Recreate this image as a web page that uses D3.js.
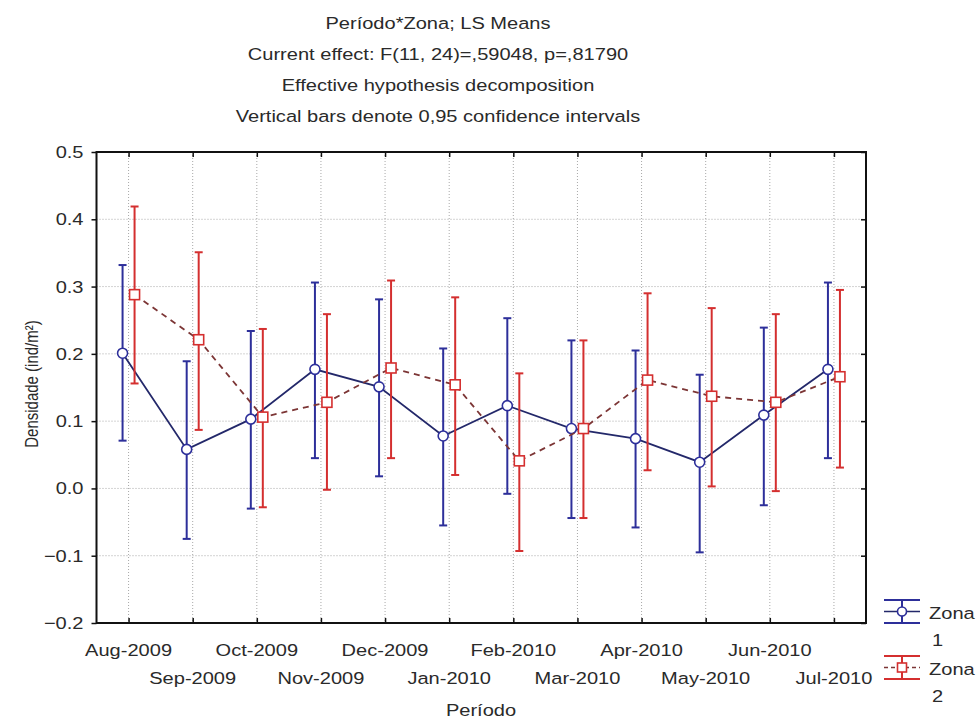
<!DOCTYPE html>
<html>
<head>
<meta charset="utf-8">
<script src="https://cdn.jsdelivr.net/npm/d3@7"></script>
<style>
  html, body { margin: 0; padding: 0; background: #fff; }
  svg { display: block; font-family: "Liberation Sans", Arial, sans-serif; }
</style>
</head>
<body>
<svg id="chart" width="978" height="723"></svg>
<script>
// LS means of density per sampling month, for the two zones, with 0.95 confidence limits
const categories = ["Aug-2009","Sep-2009","Oct-2009","Nov-2009","Dec-2009","Jan-2010",
                    "Feb-2010","Mar-2010","Apr-2010","May-2010","Jun-2010","Jul-2010"];

const zona1Mean  = [0.201, 0.058, 0.103, 0.177, 0.151, 0.078, 0.123, 0.089, 0.074, 0.039, 0.109, 0.177];
const zona1Lower = [0.071, -0.075, -0.030, 0.045, 0.018, -0.055, -0.008, -0.044, -0.058, -0.095, -0.025, 0.045];
const zona1Upper = [0.332, 0.189, 0.234, 0.306, 0.281, 0.208, 0.253, 0.220, 0.205, 0.169, 0.239, 0.306];

const zona2Mean  = [0.288, 0.221, 0.106, 0.128, 0.179, 0.154, 0.041, 0.089, 0.161, 0.137, 0.128, 0.166];
const zona2Lower = [0.156, 0.087, -0.028, -0.002, 0.045, 0.020, -0.093, -0.044, 0.027, 0.003, -0.004, 0.031];
const zona2Upper = [0.419, 0.351, 0.237, 0.259, 0.309, 0.284, 0.171, 0.220, 0.290, 0.268, 0.259, 0.295];

const yTicks = [0.5, 0.4, 0.3, 0.2, 0.1, 0.0, -0.1, -0.2];

const titleLines = [
  "Período*Zona; LS Means",
  "Current effect: F(11, 24)=,59048, p=,81790",
  "Effective hypothesis decomposition",
  "Vertical bars denote 0,95 confidence intervals"
];

const svg = d3.select("#chart");
const plot = { left: 96.5, right: 866, top: 152, bottom: 623 };
const fontSize = 17;
const sx = 1.18;            // glyphs are drawn slightly wide
const textColor = "#2a2a2a";

const x = d3.scalePoint().domain(categories).range([plot.left, plot.right]).padding(0.5);
const y = d3.scaleLinear().domain([-0.2, 0.5]).range([plot.bottom, plot.top]);

// widened text placed with its anchor at (tx, ty)
function wideText(parent, tx, ty, str, anchor = "start") {
  return parent.append("text")
    .attr("transform", `translate(${tx},${ty}) scale(${sx},1)`)
    .attr("text-anchor", anchor).attr("font-size", fontSize).attr("fill", textColor)
    .text(str);
}

// titles
const titles = svg.append("g");
titleLines.forEach((t, i) => wideText(titles, 438, 29 + i * 31, t, "middle"));

// dotted grid
const grid = svg.append("g").attr("stroke", "#a8a8a8").attr("stroke-width", 1)
  .attr("stroke-dasharray", "1,2");
grid.selectAll("line.v").data(categories).join("line").attr("class", "v")
  .attr("x1", d => x(d)).attr("x2", d => x(d)).attr("y1", plot.top).attr("y2", plot.bottom);
grid.selectAll("line.h").data(yTicks.filter(v => v < 0.5 && v > -0.2)).join("line").attr("class", "h")
  .attr("x1", plot.left).attr("x2", plot.right).attr("y1", d => y(d)).attr("y2", d => y(d));

// axes (tick marks only; labels drawn below)
const fmt = d3.format(".1f");
const yAxis = svg.append("g").attr("transform", `translate(${plot.left},0)`)
  .call(d3.axisLeft(y).tickValues(yTicks).tickFormat("").tickSize(5));
const yAxisR = svg.append("g").attr("transform", `translate(${plot.right},0)`)
  .call(d3.axisLeft(y).tickValues(yTicks).tickFormat("").tickSize(5));
const xAxisB = svg.append("g").attr("transform", `translate(0,${plot.bottom})`)
  .call(d3.axisTop(x).tickFormat("").tickSize(5));
const xAxisT = svg.append("g").attr("transform", `translate(0,${plot.top})`)
  .call(d3.axisBottom(x).tickFormat("").tickSize(5));
[yAxis, yAxisR, xAxisB, xAxisT].forEach(g => {
  g.select(".domain").remove();
  g.selectAll(".tick text").remove();
  g.selectAll(".tick line").attr("stroke", "#111").attr("stroke-width", 1.5);
});

// y tick labels
const yLabels = svg.append("g");
yTicks.forEach(v => wideText(yLabels, plot.left - 13, y(v) + 6, fmt(v), "end"));

// staggered category labels
const xLabels = svg.append("g");
categories.forEach((c, i) => wideText(xLabels, x(c), i % 2 === 0 ? 656 : 684, c, "middle"));

// frame
svg.append("rect").attr("x", plot.left).attr("y", plot.top)
  .attr("width", plot.right - plot.left).attr("height", plot.bottom - plot.top)
  .attr("fill", "none").attr("stroke", "#111").attr("stroke-width", 2);

// axis titles
wideText(svg, 481, 716, "Período", "middle");
svg.append("text").attr("transform", `translate(38,384) scale(${sx},1) rotate(-90)`)
  .attr("text-anchor", "middle").attr("font-size", 15).attr("fill", textColor)
  .text("Densidade (ind/m²)");

// series
const series = [
  { name: "Zona", idx: "1", mean: zona1Mean, lo: zona1Lower, hi: zona1Upper, dx: -6,
    bar: "#2d2f9a", line: "#23286a", dash: null, marker: "circle" },
  { name: "Zona", idx: "2", mean: zona2Mean, lo: zona2Lower, hi: zona2Upper, dx: 6,
    bar: "#d42f2f", line: "#7c3535", dash: "6,5", marker: "square" }
];

series.forEach(s => {
  const g = svg.append("g");
  const px = i => x(categories[i]) + s.dx;
  const line = d3.line().x((d, i) => px(i)).y(d => y(d));
  g.append("path").datum(s.mean).attr("d", line).attr("fill", "none")
    .attr("stroke", s.line).attr("stroke-width", 1.8).attr("stroke-dasharray", s.dash);
  const idx = d3.range(categories.length);
  g.selectAll("line.bar").data(idx).join("line").attr("class", "bar")
    .attr("x1", px).attr("x2", px).attr("y1", i => y(s.lo[i])).attr("y2", i => y(s.hi[i]))
    .attr("stroke", s.bar).attr("stroke-width", 2);
  ["lo", "hi"].forEach(k => {
    g.selectAll("line.cap" + k).data(idx).join("line").attr("class", "cap" + k)
      .attr("x1", i => px(i) - 4).attr("x2", i => px(i) + 4)
      .attr("y1", i => y(s[k][i])).attr("y2", i => y(s[k][i]))
      .attr("stroke", s.bar).attr("stroke-width", 2);
  });
  if (s.marker === "circle") {
    g.selectAll("circle").data(idx).join("circle")
      .attr("cx", px).attr("cy", i => y(s.mean[i])).attr("r", 5)
      .attr("fill", "#fff").attr("stroke", s.bar).attr("stroke-width", 1.6);
  } else {
    g.selectAll("rect").data(idx).join("rect")
      .attr("x", i => px(i) - 5).attr("y", i => y(s.mean[i]) - 5)
      .attr("width", 10).attr("height", 10)
      .attr("fill", "#fff").attr("stroke", s.bar).attr("stroke-width", 1.6);
  }
});

// legend
const legend = svg.append("g");
series.forEach((s, k) => {
  const cy = 611.5 + k * 56, cx = 902;
  const lg = legend.append("g");
  lg.append("line").attr("x1", cx - 18).attr("x2", cx + 18).attr("y1", cy).attr("y2", cy)
    .attr("stroke", s.line).attr("stroke-width", 1.5).attr("stroke-dasharray", s.dash ? "4,3" : null);
  lg.append("line").attr("x1", cx).attr("x2", cx).attr("y1", cy - 11.5).attr("y2", cy + 11.5)
    .attr("stroke", s.bar).attr("stroke-width", 2);
  [-11.5, 11.5].forEach(o => lg.append("line").attr("x1", cx - 18).attr("x2", cx + 18)
    .attr("y1", cy + o).attr("y2", cy + o).attr("stroke", s.bar).attr("stroke-width", 2));
  if (s.marker === "circle") {
    lg.append("circle").attr("cx", cx).attr("cy", cy).attr("r", 4.5)
      .attr("fill", "#fff").attr("stroke", s.bar).attr("stroke-width", 1.6);
  } else {
    lg.append("rect").attr("x", cx - 4.5).attr("y", cy - 4.5).attr("width", 9).attr("height", 9)
      .attr("fill", "#fff").attr("stroke", s.bar).attr("stroke-width", 1.6);
  }
  wideText(lg, 929, cy + 7, s.name);
  wideText(lg, 932, cy + 34, s.idx);
});
</script>
</body>
</html>
